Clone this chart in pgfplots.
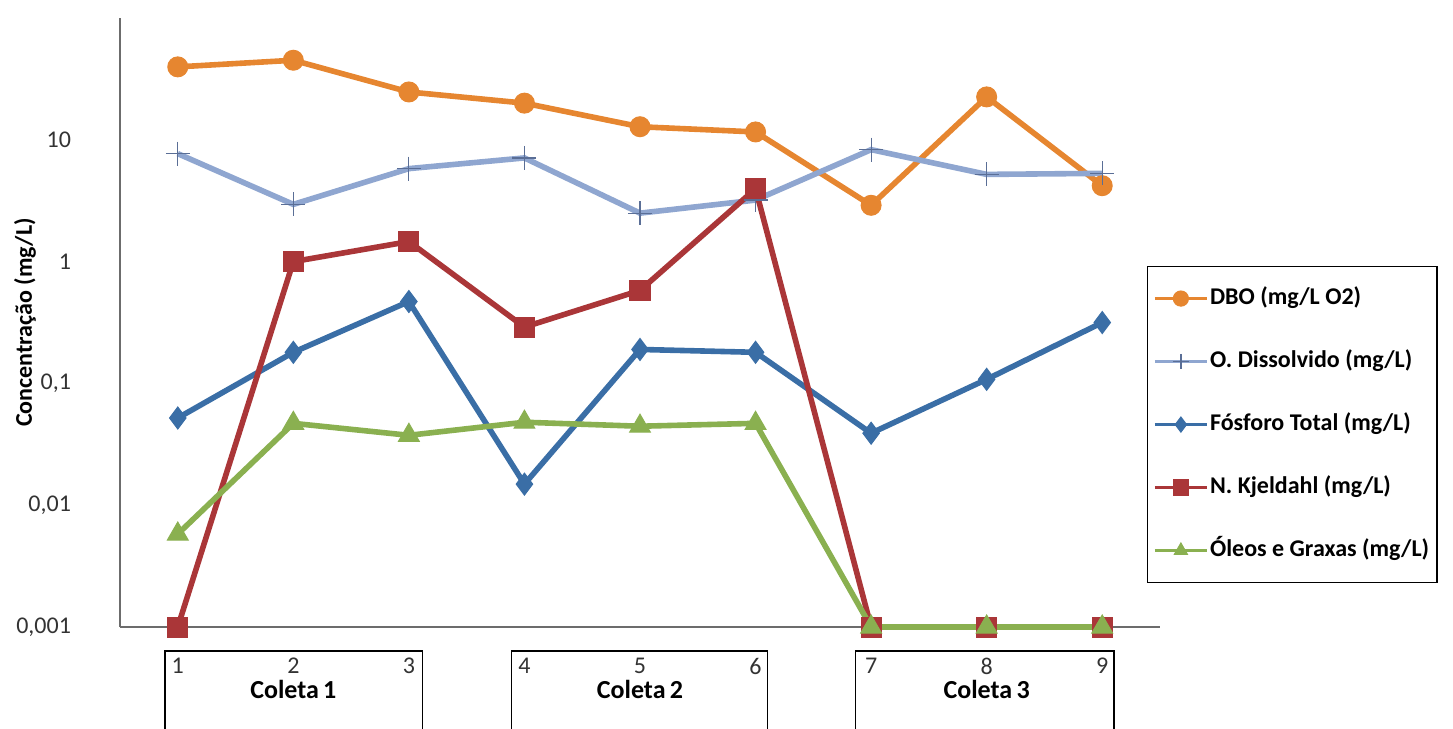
\documentclass[border=0pt]{standalone}
\usepackage{pgfplots}
\pgfplotsset{compat=1.18}
\usepackage{fontspec}
\setmainfont{Carlito}
\definecolor{cDBO}{RGB}{230,134,48}
\definecolor{cOD}{RGB}{143,166,208}
\definecolor{cODm}{RGB}{90,110,150}
\definecolor{cFos}{RGB}{58,110,166}
\definecolor{cNK}{RGB}{170,54,56}
\definecolor{cOG}{RGB}{138,176,80}
\begin{document}
\begin{tikzpicture}
\begin{axis}[
  at={(60pt,51pt)}, anchor=south west,
  scale only axis, width=520pt, height=304.5pt,
  ymode=log, ymin=0.001, ymax=100, xmin=0.5, xmax=9.5,
  axis x line=bottom, axis y line=left,
  axis line style={draw=gray!85!black, line width=0.6pt, -},
  ytick={0.001,0.01,0.1,1,10},
  yticklabels={{0,001},{0,01},{0,1},{1},{10}},
  xtick={1,2,3,4,5,6,7,8,9},
  xticklabels={1,2,3,4,5,6,7,8,9},
  major tick length=0pt, minor tick length=0pt, minor y tick style={draw=none},
  tick label style={font=\fontsize{12}{14}\selectfont, text=black!80},
  yticklabel style={xshift=-21pt},
  xticklabel style={yshift=-12pt},
  every axis y label/.style={at={([xshift=-47.5pt]axis description cs:0,0.5)}, rotate=90, anchor=center, font=\bfseries\fontsize{12}{14}\selectfont},
  ylabel={Concentração (mg/L)},
  clip=false,
  legend cell align=left,
  legend style={at={(axis description cs:0.9875,0.593)}, anchor=north west,
    draw=black, line width=0.7pt, font=\bfseries\fontsize{12}{14}\selectfont,
    row sep=11.5pt, inner ysep=6pt, inner xsep=3pt,
    nodes={text height=9pt, text depth=3pt, inner ysep=4pt, inner xsep=1pt}},
  legend image code/.code={\draw[line width=1.2pt, mark repeat=2, mark phase=2, mark size=3.8pt] plot coordinates {(0pt,0pt)(13pt,0pt)(26pt,0pt)};},
]
\addplot[cDBO, line width=2.8pt, mark=*, mark size=5pt, mark options={line width=0.5pt, fill=cDBO}]
  coordinates {(1,39.7)(2,45)(3,24.7)(4,20)(5,12.8)(6,11.6)(7,2.9)(8,22.5)(9,4.2)};
\addlegendentry{DBO (mg/L O2)}
\addplot[cOD, line width=2.8pt, mark=+, mark size=6pt, mark options={line width=0.6pt, draw=cODm}]
  coordinates {(1,7.7)(2,2.95)(3,5.8)(4,7.1)(5,2.5)(6,3.2)(7,8.3)(8,5.2)(9,5.3)};
\addlegendentry{O. Dissolvido  (mg/L)}
\addplot[cFos, line width=2.8pt, mark=diamond*, mark size=5.5pt, mark options={line width=0.5pt, fill=cFos}]
  coordinates {(1,0.052)(2,0.18)(3,0.47)(4,0.0149)(5,0.19)(6,0.18)(7,0.039)(8,0.108)(9,0.316)};
\addlegendentry{Fósforo Total (mg/L)}
\addplot[cNK, line width=2.8pt, mark=square*, mark size=5pt, mark options={line width=0.5pt, fill=cNK}]
  coordinates {(1,0.001)(2,1.0)(3,1.46)(4,0.29)(5,0.58)(6,3.96)(7,0.001)(8,0.001)(9,0.001)};
\addlegendentry{N. Kjeldahl (mg/L)}
\addplot[cOG, line width=2.8pt, mark=triangle*, mark size=6pt, mark options={line width=0.5pt, fill=cOG}]
  coordinates {(1,0.0058)(2,0.047)(3,0.0375)(4,0.048)(5,0.0445)(6,0.047)(7,0.001)(8,0.001)(9,0.001)};
\addlegendentry{Óleos e Graxas  (mg/L)}

\draw[line width=0.75pt] ([yshift=-12pt]axis cs:0.890,0.001) rectangle ([yshift=-80pt]axis cs:3.116,0.001);
\draw[line width=0.75pt] ([yshift=-12pt]axis cs:3.887,0.001) rectangle ([yshift=-80pt]axis cs:6.105,0.001);
\draw[line width=0.75pt] ([yshift=-12pt]axis cs:6.867,0.001) rectangle ([yshift=-80pt]axis cs:9.102,0.001);
\node[font=\bfseries\fontsize{13}{15}\selectfont] at ([yshift=-31pt]axis cs:2,0.001) {Coleta\,1};
\node[font=\bfseries\fontsize{13}{15}\selectfont] at ([yshift=-31pt]axis cs:5,0.001) {Coleta\,2};
\node[font=\bfseries\fontsize{13}{15}\selectfont] at ([yshift=-31pt]axis cs:8,0.001) {Coleta\,3};
\end{axis}
\pgfresetboundingbox
\path[use as bounding box] (0,0) rectangle (726.5pt,364.5pt);
\end{tikzpicture}
\end{document}
